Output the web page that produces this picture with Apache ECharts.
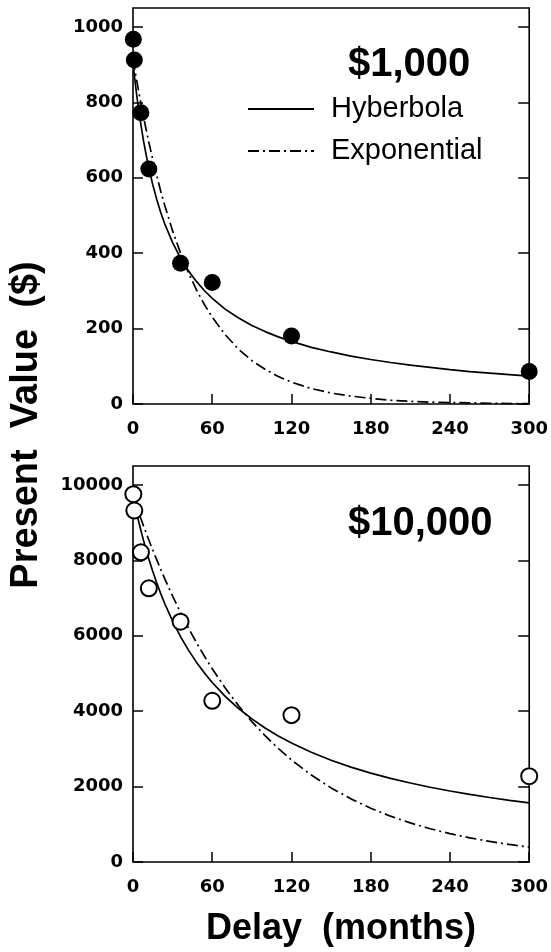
<!DOCTYPE html>
<html>
<head>
<meta charset="utf-8">
<script src="https://cdn.jsdelivr.net/npm/echarts@6/dist/echarts.min.js"></script>
<style>
html,body{margin:0;padding:0;background:#fff;}
#chart{width:551px;height:952px;}
</style>
</head>
<body>
<div id="chart"></div>
<script>
// ---- data ----
var delays = [0.25, 1, 6, 12, 36, 60, 120, 300];
var pv1000 = [967, 912, 772, 623, 373, 322, 180, 86];
var pv10000 = [9752, 9319, 8212, 7257, 6372, 4274, 3894, 2274];

var curveX = [0, 1, 2, 3, 4, 6, 8, 10, 12, 15, 18, 21, 24, 30, 36, 42, 48, 54, 60, 70, 80, 90, 100, 110, 120, 135, 150, 165, 180, 195, 210, 225, 240, 255, 270, 285, 300];
var hyp1000 = [905, 873, 842, 814, 788, 740, 697, 660, 626, 581, 542, 508, 478, 428, 387, 353, 325, 301, 280, 251, 228, 208, 192, 178, 166, 150, 138, 127, 118, 110, 103, 97, 91, 86, 82, 78, 74];
var exp1000 = [915, 894, 874, 854, 835, 797, 761, 727, 694, 648, 605, 564, 527, 459, 400, 348, 303, 264, 230, 183, 145, 115, 92, 73, 58, 41, 29, 21, 15, 10, 7, 5, 4, 3, 2, 1, 1];
var hyp10000 = [9700, 9535, 9376, 9221, 9072, 8788, 8521, 8269, 8032, 7701, 7397, 7115, 6854, 6386, 5977, 5618, 5299, 5015, 4760, 4387, 4069, 3794, 3553, 3341, 3153, 2908, 2698, 2517, 2358, 2218, 2094, 1983, 1883, 1792, 1710, 1636, 1567];
var exp10000 = [9700, 9597, 9496, 9395, 9296, 9100, 8909, 8721, 8537, 8269, 8009, 7757, 7513, 7048, 6613, 6204, 5820, 5461, 5123, 4606, 4141, 3723, 3348, 3010, 2706, 2306, 1965, 1674, 1426, 1215, 1036, 882, 752, 641, 546, 465, 396];

var xTicks = [0, 60, 120, 180, 240, 300];
var yTicksTop = [0, 200, 400, 600, 800, 1000];
var yTicksBottom = [0, 2000, 4000, 6000, 8000, 10000];

var seriesNames = ['Hyberbola', 'Exponential'];
var panelTitles = ['$1,000', '$10,000'];
var xName = 'Delay  (months)';
var yName = 'Present  Value  ($)';

// ---- helpers ----
function pairs(xs, ys) { return xs.map(function (x, i) { return [x, ys[i]]; }); }
var tickFont = { fontFamily: 'DejaVu Sans', fontWeight: 'bold', fontSize: 18, color: '#000',
  formatter: function (v) { return String(v); } };

function xAxisFor(gi) {
  return [{
    type: 'value', gridIndex: gi, min: 0, max: 300, position: 'bottom',
    axisLine: { show: false }, splitLine: { show: false },
    axisTick: { inside: true, length: 10, lineStyle: { color: '#000', width: 1.5 }, customValues: xTicks },
    axisLabel: Object.assign({ margin: 16, customValues: xTicks }, tickFont)
  }];
}
function yAxesFor(gi, max, ticks) {
  return [{
    type: 'value', gridIndex: gi, min: 0, max: max, position: 'left',
    axisLine: { show: false }, splitLine: { show: false },
    axisTick: { inside: true, length: 10, lineStyle: { color: '#000', width: 1.5 }, customValues: ticks },
    axisLabel: Object.assign({ margin: 10, customValues: ticks }, tickFont)
  }, {
    type: 'value', gridIndex: gi, min: 0, max: max, position: 'right',
    axisLine: { show: false }, splitLine: { show: false },
    axisTick: { inside: true, length: 11, lineStyle: { color: '#000', width: 1.5 }, customValues: ticks },
    axisLabel: { show: false }
  }];
}

function lineSeries(name, gi, xs, ys, dashed) {
  return {
    name: name, type: 'line', xAxisIndex: gi, yAxisIndex: gi * 2,
    data: pairs(xs, ys), symbol: 'none', showSymbol: false,
    smooth: false, z: 2,
    lineStyle: { color: '#000', width: 1.7, type: dashed ? [11, 4, 2, 4] : 'solid' },
    itemStyle: { color: '#000' }
  };
}

var option = {
  backgroundColor: '#fff',
  animation: false,
  grid: [
    { left: 133, right: 19, top: 8, height: 396, show: true, borderColor: '#000', borderWidth: 1.6, backgroundColor: 'transparent' },
    { left: 133, right: 19, top: 466, height: 396, show: true, borderColor: '#000', borderWidth: 1.6, backgroundColor: 'transparent' }
  ],
  xAxis: xAxisFor(0).concat(xAxisFor(1)),
  yAxis: yAxesFor(0, 1050, yTicksTop).concat(yAxesFor(1, 10500, yTicksBottom)),
  title: [
    { text: panelTitles[0], left: 348, top: 45, padding: 0,
      textStyle: { fontFamily: 'Liberation Sans', fontWeight: 'bold', fontSize: 40, color: '#000' } },
    { text: panelTitles[1], left: 348, top: 504, padding: 0,
      textStyle: { fontFamily: 'Liberation Sans', fontWeight: 'bold', fontSize: 40, color: '#000' } }
  ],
  legend: {
    data: seriesNames, orient: 'vertical', left: 247, top: 94, padding: 0,
    itemWidth: 66, itemHeight: 14, itemGap: 12, selectedMode: false,
    itemStyle: { color: 'transparent', borderColor: 'transparent', borderWidth: 0, opacity: 0 },
    textStyle: { fontFamily: 'Liberation Sans', fontSize: 29, color: '#000', lineHeight: 30, padding: [0, 0, 0, 12] }
  },
  graphic: [
    { type: 'text', x: 27, y: 425, rotation: Math.PI / 2,
      style: { text: yName, fontFamily: 'Liberation Sans', fontWeight: 'bold', fontSize: 38, fill: '#000', align: 'center', verticalAlign: 'middle' } },
    { type: 'text', x: 341, y: 929,
      style: { text: xName, fontFamily: 'Liberation Sans', fontWeight: 'bold', fontSize: 36, fill: '#000', align: 'center', verticalAlign: 'middle' } }
  ],
  series: [
    lineSeries(seriesNames[0], 0, curveX, hyp1000, false),
    lineSeries(seriesNames[1], 0, curveX, exp1000, true),
    { name: 'pts1000', type: 'scatter', xAxisIndex: 0, yAxisIndex: 0, data: pairs(delays, pv1000),
      symbol: 'circle', symbolSize: 17, z: 5, itemStyle: { color: '#000', opacity: 1 } },
    lineSeries(seriesNames[0], 1, curveX, hyp10000, false),
    lineSeries(seriesNames[1], 1, curveX, exp10000, true),
    { name: 'pts10000', type: 'scatter', xAxisIndex: 1, yAxisIndex: 2, data: pairs(delays, pv10000),
      symbol: 'circle', symbolSize: 16, z: 5, itemStyle: { color: '#fff', borderColor: '#000', borderWidth: 2, opacity: 1 } }
  ]
};

var chart = echarts.init(document.getElementById('chart'), null, { renderer: 'canvas' });
chart.setOption(option);
</script>
</body>
</html>
